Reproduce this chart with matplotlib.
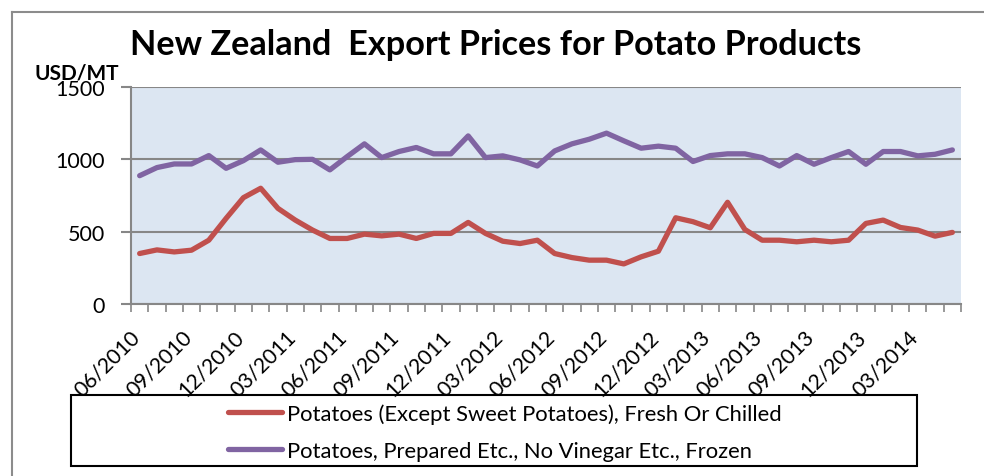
import numpy as np
import matplotlib
matplotlib.use("Agg")
import matplotlib.pyplot as plt
from matplotlib.lines import Line2D
from matplotlib.patches import Rectangle
from matplotlib.transforms import ScaledTranslation

plt.rcParams['font.family'] = ['Lato', 'DejaVu Sans']

# monthly, 06/2010 .. 05/2014
months = []
for i in range(48):
    m = (5 + i) % 12 + 1
    y = 2010 + (5 + i) // 12
    months.append("%02d/%d" % (m, y))

fresh = [349, 374, 360, 372, 441, 592, 735, 800, 661, 580, 511, 453,
         453, 483, 471, 483, 453, 488, 488, 564, 488, 434, 418, 441,
         349, 321, 303, 303, 277, 326, 365, 596, 569, 527, 703, 515,
         441, 441, 430, 441, 430, 441, 557, 580, 529, 511, 469, 495]
frozen = [887, 943, 968, 968, 1026, 938, 991, 1065, 980, 998, 1000, 927,
          1019, 1107, 1012, 1054, 1082, 1038, 1038, 1162, 1012, 1024, 996, 954,
          1058, 1107, 1139, 1181, 1128, 1077, 1091, 1077, 985, 1026, 1038, 1038,
          1012, 954, 1026, 966, 1012, 1054, 966, 1054, 1054, 1024, 1035, 1065]

series_names = ["Potatoes (Except Sweet Potatoes), Fresh Or Chilled",
                "Potatoes, Prepared Etc., No Vinegar Etc., Frozen"]
yticks = [0, 500, 1000, 1500]

W, H = 984, 477
fig = plt.figure(figsize=(W / 100, H / 100), dpi=100)

# outer chart frame (partly cropped)
fig.add_artist(Line2D([12 / W, 12 / W], [0, 1 - 13 / H], transform=fig.transFigure,
                      color="#8c8c8c", lw=1.5))
fig.add_artist(Line2D([12 / W, 1], [1 - 13 / H, 1 - 13 / H], transform=fig.transFigure,
                      color="#8c8c8c", lw=1.5))

ax = fig.add_axes([131 / W, 1 - 305 / H, (961 - 131) / W, (305 - 88) / H])
ax.set_facecolor("#DCE6F2")

x = np.arange(len(months))
l1, = ax.plot(x, fresh, color="#C0504D", lw=3.8, solid_joinstyle="round",
              solid_capstyle="round")
l2, = ax.plot(x, frozen, color="#8064A2", lw=3.8, solid_joinstyle="round",
              solid_capstyle="round")

ax.set_xlim(-0.5, len(months) - 0.5)
ax.set_ylim(0, 1500)
ax.set_yticks(yticks)
ax.set_yticklabels([str(v) for v in yticks], fontsize=15.5)
ax.yaxis.grid(True, color="#878787", lw=1.5)
ax.set_axisbelow(True)

ax.set_xticks(x[::3])
ax.set_xticklabels(months[::3], rotation=45, ha="right", va="top",
                   rotation_mode="anchor", fontsize=15.3)
ax.set_xticks(np.arange(-0.5, len(months)), minor=True)
ax.tick_params(axis="x", which="major", length=0, pad=16)
ax.tick_params(axis="x", which="minor", length=6, width=1.2, color="#878787")
ax.tick_params(axis="y", length=7, width=1.5, color="#878787", pad=12)

# nudge rotated labels left (after tick_params, which resets transforms)
shift = ScaledTranslation(-10 / 100, 0, fig.dpi_scale_trans)
for lbl in ax.get_xticklabels():
    lbl.set_transform(lbl.get_transform() + shift)

for s in ["top", "right"]:
    ax.spines[s].set_visible(False)
for s in ["left", "bottom"]:
    ax.spines[s].set_color("#878787")
    ax.spines[s].set_linewidth(1.5)

fig.text(496 / W, 1 - 45 / H, "New Zealand  Export Prices for Potato Products",
         ha="center", va="center", fontsize=24.7, fontweight="bold")
fig.text(35 / W, 1 - 74 / H, "USD/MT", ha="left", va="center",
         fontsize=15, fontweight="bold")

# legend box
fig.add_artist(Rectangle((71 / W, 1 - 467 / H), (917 - 71) / W, (467 - 396) / H,
                         transform=fig.transFigure, fill=False, ec="black", lw=1.5))
fig.legend([l1, l2], series_names, loc="center left",
           bbox_to_anchor=(208 / W, 1 - 433 / H), frameon=False,
           fontsize=15.8, handlelength=2.45, handletextpad=0.25, labelspacing=0.75)

fig.savefig("out.png", dpi=100)
